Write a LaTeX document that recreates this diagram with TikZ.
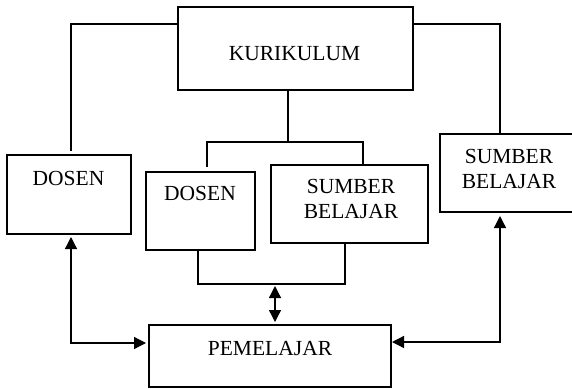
\documentclass[tikz,border=0pt]{standalone}
\usepackage{fontspec}
\setmainfont{Liberation Serif}
\usetikzlibrary{arrows.meta}
\begin{document}
\begin{tikzpicture}[x=1pt,y=-1pt]
\tikzset{
  box/.style={draw, line width=1.3pt, inner sep=0pt, outer sep=0pt},
  lbl/.style={inner sep=0pt, font=\fontsize{21.5}{25}\selectfont, align=center},
  link/.style={line width=1.3pt},
  tip/.tip={Triangle[length=12pt,width=12pt]},
  arr/.style={line width=1.3pt, -tip},
  darr/.style={line width=1.3pt, tip-tip},
}
\useasboundingbox (0,0) rectangle (572,388);
\clip (0,0) rectangle (572,388);

% boxes
\node[box, minimum width=235pt, minimum height=83pt] (kur)  at (295.5,48.5) {};
\node[box, minimum width=124pt, minimum height=79pt] (dosL) at (69,194.5) {};
\node[box, minimum width=109pt, minimum height=78pt] (dosM) at (200.5,211) {};
\node[box, minimum width=157pt, minimum height=78pt] (sbM)  at (349.5,204) {};
\node[box, minimum width=138pt, minimum height=78pt] (sbR)  at (509,173) {};
\node[box, minimum width=242pt, minimum height=62pt] (pem)  at (270,356) {};

% labels
\node[lbl, anchor=base]  (kurT)  at (294.5,60) {KURIKULUM};
\node[lbl, anchor=base]  (dosLT) at (68.5,185) {DOSEN};
\node[lbl, anchor=base]  (dosMT) at (200,200)  {DOSEN};
\node[lbl, anchor=north] (sbMT)  at (351,179)  {SUMBER\\BELAJAR};
\node[lbl, anchor=north] (sbRT)  at (509,149)  {SUMBER\\BELAJAR};
\node[lbl, anchor=base]  (pemT)  at (270,355)  {PEMELAJAR};

% routing points
\coordinate (y24) at (0,24);
\coordinate (cL) at (71,343);
\coordinate (cR) at (500,342);
\coordinate (bk) at (288,142);
\coordinate (mL) at (207,142);
\coordinate (mR) at (363,142);
\coordinate (bL) at (198,284);
\coordinate (bR) at (345,284);
\coordinate (dA) at (275,286);

% curriculum to the outer boxes
\draw[link] (kur.west |- y24) -| ([yshift=4pt]dosL.north -| cL);
\draw[link] (kur.east |- y24) -| (sbR.north -| cR);

% curriculum to the inner pair
\draw[link] (kur.south -| bk) -- (bk);
\draw[link] ([yshift=5pt]dosM.north -| mL) -- (mL) -- (mR) -- (sbM.north -| mR);

% inner pair joined below
\draw[link] (dosM.south -| bL) -- (bL) -- (bR) -- (sbM.south -| bR);
\draw[darr] (dA) -- ([yshift=3pt]pem.north -| dA);

% learner links to the outer boxes
\draw[darr] ([yshift=-3pt]dosL.south -| cL) -- (cL) -- ([xshift=-3pt]pem.west |- cL);
\draw[darr] ([yshift=-4pt]sbR.south -| cR) -- (cR) -- ([xshift=1pt]pem.east |- cR);
\end{tikzpicture}
\end{document}
